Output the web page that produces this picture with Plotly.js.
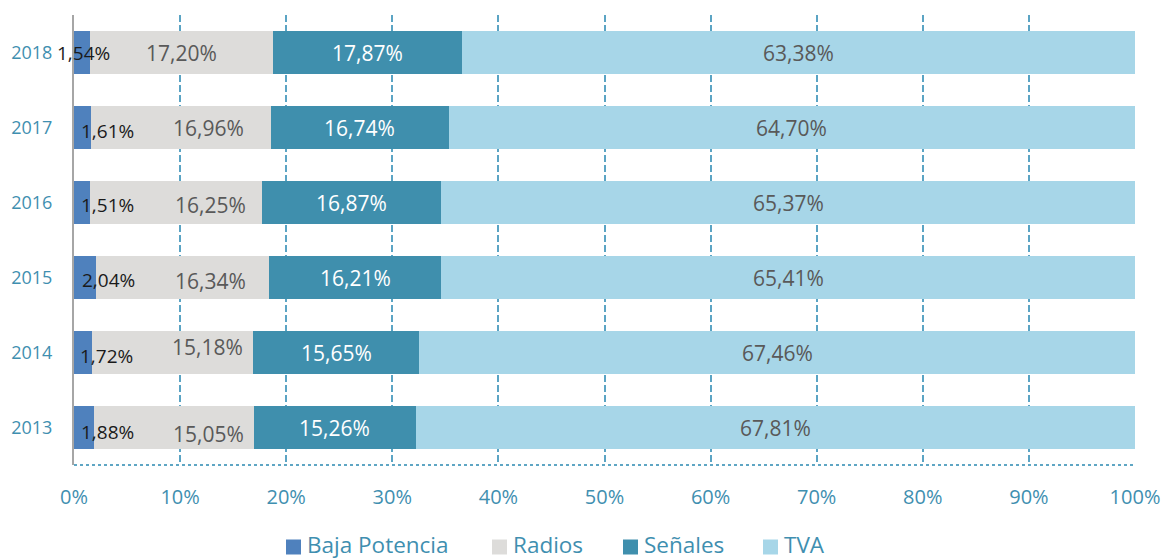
<!DOCTYPE html>
<html>
<head>
<meta charset="utf-8">
<script src="https://cdn.plot.ly/plotly-3.0.1.min.js"></script>
<style>html,body{margin:0;padding:0;background:#fff;}#chart{width:1163px;height:560px;}</style>
</head>
<body>
<div id="chart"></div>
<script>
var years = [2013, 2014, 2015, 2016, 2017, 2018];
var yearLabels = ['2013', '2014', '2015', '2016', '2017', '2018'];
var bajaPotencia = [1.88, 1.72, 2.04, 1.51, 1.61, 1.54];
var radios = [15.05, 15.18, 16.34, 16.25, 16.96, 17.20];
var senales = [15.26, 15.65, 16.21, 16.87, 16.74, 17.87];
var tva = [67.81, 67.46, 65.41, 65.37, 64.70, 63.38];
var xTicks = [0, 10, 20, 30, 40, 50, 60, 70, 80, 90, 100];
var xTickLabels = ['0%', '10%', '20%', '30%', '40%', '50%', '60%', '70%', '80%', '90%', '100%'];
var seriesNames = ['Baja Potencia', 'Radios', 'Señales', 'TVA'];

var colors = ['#4F81BD', '#DDDCDA', '#3F8FAD', '#A7D6E8'];
var textColors = ['#1a1a1a', '#595959', '#ffffff', '#595959'];
var allValues = [bajaPotencia, radios, senales, tva];

var FONT = '"Open Sans", "Noto Sans", sans-serif';
var AXC = '#3F8FB0';

// plot area in pixels
var W = 1163, H = 560, ML = 74, MR = 28, MT = 15, MB = 95;
var PW = W - ML - MR, PH = H - MT - MB;
function px2x(px) { return (px - ML) / PW; }
function py2y(py) { return (H - MB - py) / PH; }

var traces = seriesNames.map(function (name, k) {
  return {
    type: 'bar', orientation: 'h', name: name,
    y: years, x: allValues[k],
    marker: {color: colors[k], line: {width: 0}},
    hoverinfo: 'skip', showlegend: false
  };
});

function fmt(v) { return v.toFixed(2).replace('.', ',') + '%'; }

// label offsets (pixels) for visual placement, per year 2013..2018
var bajaXShift = [5, 4, 6, 5, 5, -19];
var bajaYShift = [-4, -3, -2, -2, -3, 0];
var radiosXShift = [35, 35, 28, 34, 27, 0];
var radiosYShift = [-6, 6, -3, -2, 0, 0];

var annotations = [];
years.forEach(function (yr, i) {
  var cum = 0;
  allValues.forEach(function (vals, k) {
    var v = vals[i];
    var a = {
      y: yr, yref: 'y', xref: 'x', showarrow: false,
      text: fmt(v),
      font: {family: FONT, size: 21, color: textColors[k]}
    };
    if (k === 0) {
      a.x = 0; a.xanchor = 'left'; a.xshift = bajaXShift[i]; a.yshift = bajaYShift[i];
      a.font.size = 19;
    } else {
      a.x = cum + v / 2; a.xanchor = 'center';
      if (k === 1) { a.xshift = radiosXShift[i]; a.yshift = radiosYShift[i]; }
    }
    annotations.push(a);
    cum += v;
  });
});

// custom legend (pixel layout)
var legSquareX = [286, 492, 623, 763];
var legY = 546, legSq = 15;
var shapes = [{
  type: 'line', xref: 'paper', yref: 'paper', x0: 0, x1: 1, y0: 0, y1: 0,
  line: {color: '#5FA6C4', width: 2, dash: 'dot'}
}];
seriesNames.forEach(function (name, k) {
  var x0 = legSquareX[k];
  shapes.push({
    type: 'rect', xref: 'paper', yref: 'paper',
    x0: px2x(x0), x1: px2x(x0 + legSq),
    y0: py2y(legY + 1 + legSq / 2), y1: py2y(legY + 1 - legSq / 2),
    fillcolor: colors[k], line: {width: 0}
  });
  annotations.push({
    xref: 'paper', yref: 'paper', x: px2x(x0 + legSq + 4), y: py2y(legY - 2),
    xanchor: 'left', yanchor: 'middle', showarrow: false,
    text: name, font: {family: FONT, size: 22.5, color: AXC}
  });
});

var layout = {
  width: W, height: H,
  margin: {l: ML, r: MR, t: MT, b: MB, autoexpand: false},
  paper_bgcolor: '#ffffff', plot_bgcolor: '#ffffff',
  barmode: 'stack', bargap: 0.427,
  showlegend: false,
  xaxis: {
    range: [0, 100], tickvals: xTicks, ticktext: xTickLabels,
    showgrid: true, gridcolor: '#5BA4C4', griddash: '7px,3px', gridwidth: 2,
    zeroline: false, showline: false,
    ticks: 'outside', ticklen: 14, tickcolor: 'rgba(0,0,0,0)',
    tickfont: {family: FONT, size: 20, color: AXC},
    fixedrange: true, automargin: false
  },
  yaxis: {
    range: [2012.5, 2018.5], tickvals: years, ticktext: yearLabels,
    showgrid: false, zeroline: false,
    showline: true, linecolor: '#A6A6A6', linewidth: 2,
    ticks: 'outside', ticklen: 16, tickcolor: 'rgba(0,0,0,0)',
    tickfont: {family: FONT, size: 18, color: AXC},
    fixedrange: true, automargin: false
  },
  annotations: annotations,
  shapes: shapes
};

Plotly.newPlot('chart', traces, layout, {displayModeBar: false, staticPlot: true});
</script>
</body>
</html>
